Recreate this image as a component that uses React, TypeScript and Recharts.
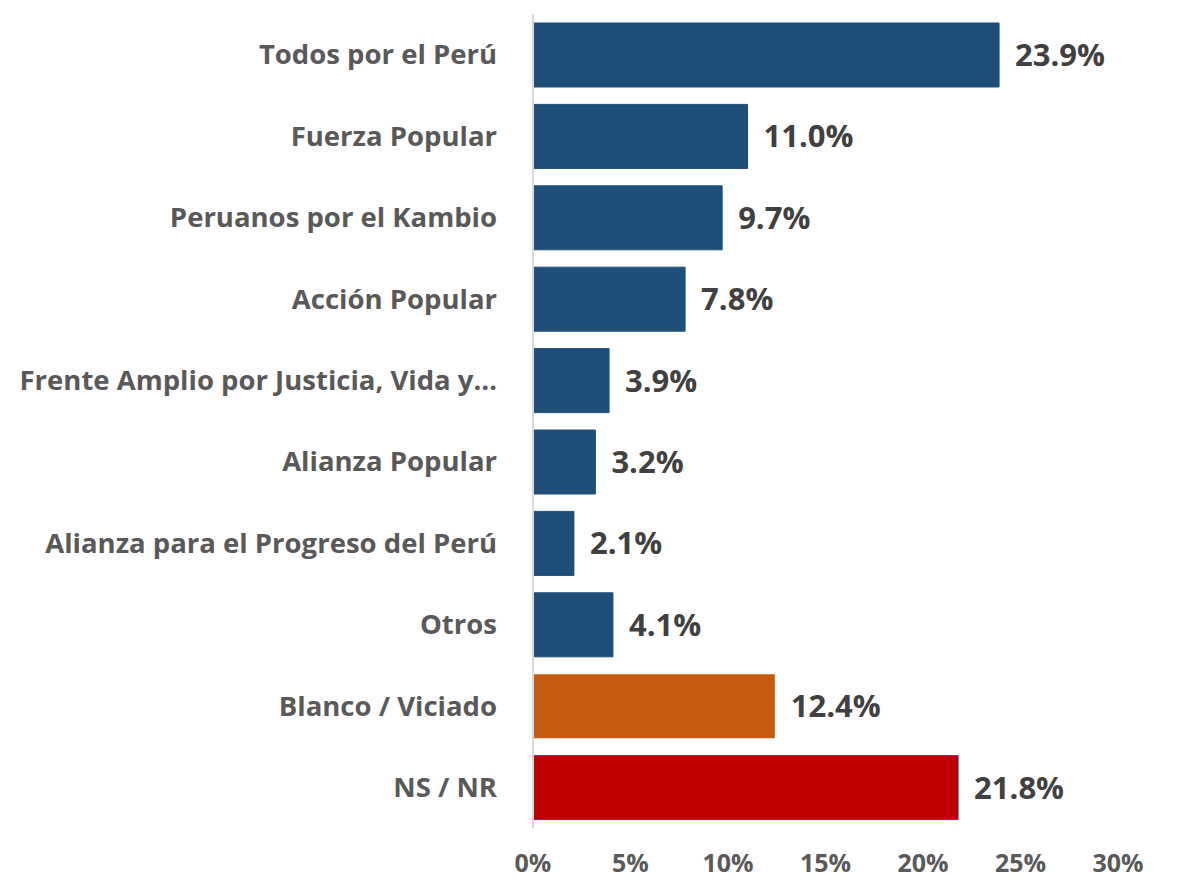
import React from "react";
import { BarChart, Bar, XAxis, YAxis, Cell, LabelList } from "recharts";

const categories = [
  "Todos por el Perú",
  "Fuerza Popular",
  "Peruanos por el Kambio",
  "Acción Popular",
  "Frente Amplio por Justicia, Vida y…",
  "Alianza Popular",
  "Alianza para el Progreso del Perú",
  "Otros",
  "Blanco / Viciado",
  "NS / NR",
];
const values = [23.9, 11.0, 9.7, 7.8, 3.9, 3.2, 2.1, 4.1, 12.4, 21.8];
const colors = [
  "#1F4E79", "#1F4E79", "#1F4E79", "#1F4E79", "#1F4E79",
  "#1F4E79", "#1F4E79", "#1F4E79", "#C55A11", "#C00000",
];
const xTicks = [0, 5, 10, 15, 20, 25, 30];

const data = categories.map((name, i) => ({ name, value: values[i], color: colors[i] }));

const FONT = "'Open Sans', Lato, sans-serif";

export default function App() {
  return (
    <div style={{ position: "absolute", left: 0, top: 0, background: "#fff" }}>
      <BarChart
        width={1178}
        height={886}
        data={data}
        layout="vertical"
        margin={{ top: 14, right: 60, bottom: 0, left: 0 }}
        barSize={64}
      >
        <XAxis
          type="number"
          domain={[0, 30]}
          ticks={xTicks}
          tickFormatter={(v) => `${v}%`}
          axisLine={false}
          tickLine={false}
          height={58}
          interval={0}
          tick={{ fill: "#595959", fontSize: 25, fontWeight: 700, fontFamily: FONT }}
          tickMargin={20}
        />
        <YAxis
          type="category"
          dataKey="name"
          width={533}
          axisLine={{ stroke: "#D9D9D9", strokeWidth: 2 }}
          tickLine={false}
          interval={0}
          tickMargin={30}
          tick={{ fill: "#595959", fontSize: 27.5, fontWeight: 700, fontFamily: FONT }}
        />
        <Bar dataKey="value" isAnimationActive={false}>
          {data.map((d, i) => (
            <Cell key={i} fill={d.color} stroke={d.color === "#C55A11" ? "none" : "#1F4E79"} strokeWidth={1} />
          ))}
          <LabelList
            dataKey="value"
            position="right"
            offset={16}
            formatter={(v: number) => `${v.toFixed(1)}%`}
            style={{ fill: "#404040", fontSize: 31, fontWeight: 700, fontFamily: FONT }}
          />
        </Bar>
      </BarChart>
    </div>
  );
}
